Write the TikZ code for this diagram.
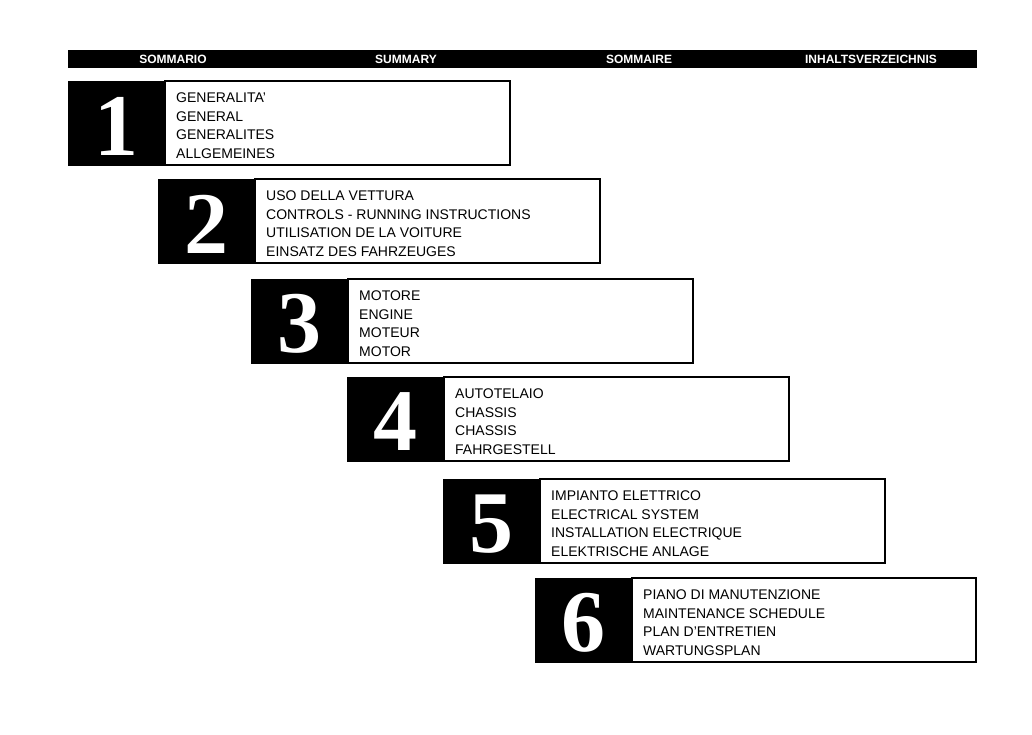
\documentclass[tikz,border=0pt]{standalone}
\usepackage{fontspec}
\setmainfont{Liberation Sans}
\newfontfamily\digitfont{Liberation Serif}
\begin{document}
\begin{tikzpicture}[x=1pt,y=-1pt,
  blk/.style={fill=black,draw=black,line width=1pt},
  wbox/.style={draw=black,line width=1.2pt,fill=white},
  dig/.style={text=white,font=\digitfont\bfseries\fontsize{88}{88}\selectfont,inner sep=0},
  lbl/.style={anchor=west,font=\fontsize{14}{14}\selectfont,inner sep=0,text depth=0pt},
  hdr/.style={text=white,font=\bfseries\fontsize{12}{12}\selectfont,inner sep=0}]
\useasboundingbox[fill=white] (0,0) rectangle (1032,734);
\fill[black] (68,50) rectangle (977,68);
\node[hdr] (h1) at (173,59.5) {SOMMARIO};
\node[hdr] (h2) at (406,59.5) {SUMMARY};
\node[hdr] (h3) at (639,59.5) {SOMMAIRE};
\node[hdr] (h4) at (871,59.5) {INHALTSVERZEICHNIS};
\foreach \n/\x/\y/\r/\a/\b/\c/\d in {
 1/68/81/510/{GENERALITA'}/GENERAL/GENERALITES/ALLGEMEINES,
 2/158/179/600/USO DELLA VETTURA/CONTROLS - RUNNING INSTRUCTIONS/UTILISATION DE LA VOITURE/EINSATZ DES FAHRZEUGES,
 3/251/279/693/MOTORE/ENGINE/MOTEUR/MOTOR,
 4/347/377/789/AUTOTELAIO/CHASSIS/CHASSIS/FAHRGESTELL,
 5/443/479/885/IMPIANTO ELETTRICO/ELECTRICAL SYSTEM/INSTALLATION ELECTRIQUE/ELEKTRISCHE ANLAGE,
 6/535/578/976/PIANO DI MANUTENZIONE/MAINTENANCE SCHEDULE/PLAN D'ENTRETIEN/WARTUNGSPLAN}{
  \draw[wbox] (\x+97,\y) rectangle (\r,\y+84);
  \draw[blk] (\x,\y) rectangle (\x+97,\y+84);
  \node[dig] (d\n) at (\x+48.5,\y+45) {\n};
  \node[lbl] (a\n) at (\x+108,\y+17) {\a};
  \node[lbl] (b\n) at (\x+108,\y+35.5) {\b};
  \node[lbl] (c\n) at (\x+108,\y+54) {\c};
  \node[lbl] (e\n) at (\x+108,\y+72.5) {\d};
}
\end{tikzpicture}
\end{document}
